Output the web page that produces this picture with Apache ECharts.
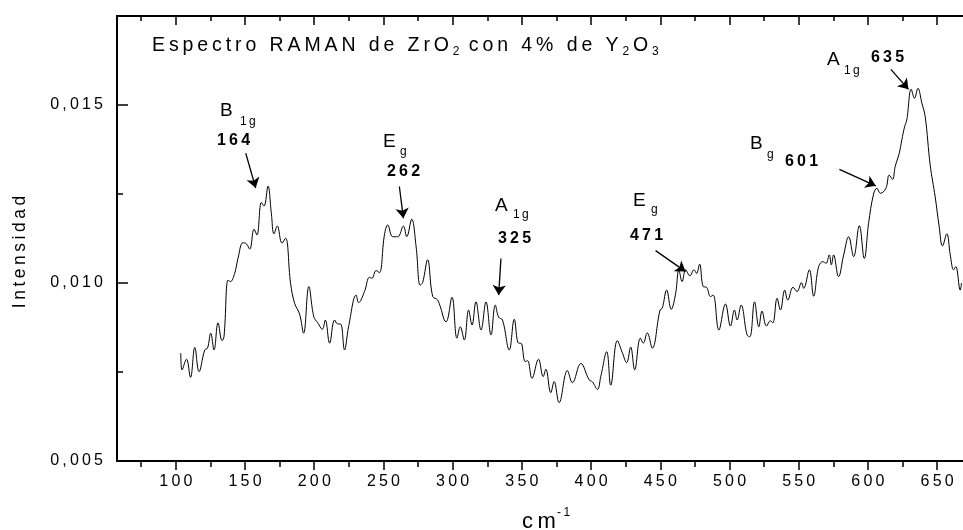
<!DOCTYPE html>
<html>
<head>
<meta charset="utf-8">
<script src="https://cdn.jsdelivr.net/npm/echarts@6/dist/echarts.min.js"></script>
<style>
  html, body { margin: 0; padding: 0; background: #fff; }
  #chart { width: 963px; height: 530px; }
</style>
</head>
<body>
<div id="chart"></div>
<script>
// Raman shift, cm-1
const shift = [
  103.6, 104.5, 107.7, 110.6, 113.7, 116.8, 120.9, 122.9, 125.2, 127.6,
  130.5, 133.4, 134.8, 137.7, 139.4, 142.5, 144.9, 148.5, 151.0, 153.4,
  156.5, 158.6, 161.8, 163.7, 166.6, 169.0, 170.9, 173.3, 176.7, 179.3,
  182.9, 185.8, 189.4, 192.3, 196.1, 199.7, 202.6, 205.8, 208.0, 211.1,
  214.7, 217.0, 219.0, 221.9, 224.8, 230.3, 232.0, 236.3, 239.9, 241.6,
  244.7, 247.1, 250.7, 253.1, 256.7, 260.3, 264.4, 266.8, 270.4, 273.6,
  276.5, 278.3, 281.9, 285.6, 289.2, 295.2, 299.5, 303.1, 305.5, 308.4,
  311.5, 314.0, 316.8, 320.5, 324.1, 327.7, 330.8, 333.2, 336.0, 340.9,
  344.5, 347.6, 349.3, 352.4, 354.1, 357.3, 362.0, 365.4, 367.3, 370.9,
  373.3, 376.9, 382.9, 386.5, 392.6, 398.6, 401.0, 404.6, 407.0, 411.3,
  414.2, 419.0, 422.6, 425.7, 428.6, 431.5, 435.6, 437.7, 440.6, 444.2,
  449.8, 451.4, 454.6, 457.9, 461.1, 463.4, 465.8, 468.3, 471.4, 474.3,
  476.2, 478.4, 481.0, 483.4, 486.3, 488.2, 492.3, 497.1, 500.7, 503.6,
  505.5, 508.4, 512.7, 514.7, 518.1, 521.2, 523.5, 526.7, 529.6, 531.3,
  534.4, 536.8, 539.9, 542.1, 545.9, 548.8, 552.0, 553.6, 557.7, 560.8,
  564.4, 567.5, 569.7, 572.1, 573.6, 575.2, 578.8, 582.5, 586.1, 589.7,
  593.8, 597.4, 600.5, 604.1, 606.5, 609.0, 613.0, 615.4, 617.8, 619.7,
  622.6, 624.5, 626.5, 628.1, 631.3, 633.7, 636.1, 639.0, 641.4, 645.0,
  648.6, 651.5, 653.9, 657.0, 659.5, 661.9, 663.5, 666.7, 667.6
];

const intensity = [
  0.00803, 0.00756, 0.00786, 0.00735, 0.00819, 0.00751, 0.00812, 0.00817, 0.00859, 0.00812,
  0.00888, 0.00838, 0.00849, 0.01008, 0.01004, 0.01027, 0.01069, 0.01113, 0.01110, 0.01095,
  0.01151, 0.01135, 0.01226, 0.01216, 0.01272, 0.01196, 0.01138, 0.01160, 0.01112, 0.01126,
  0.00999, 0.00943, 0.00913, 0.00859, 0.00990, 0.00905, 0.00888, 0.00870, 0.00896, 0.00831,
  0.00896, 0.00885, 0.00885, 0.00812, 0.00877, 0.00966, 0.00945, 0.00976, 0.01016, 0.01013,
  0.01035, 0.01029, 0.01135, 0.01163, 0.01130, 0.01130, 0.01160, 0.01130, 0.01179, 0.01102,
  0.00994, 0.01001, 0.01065, 0.00962, 0.00952, 0.00891, 0.00960, 0.00845, 0.00877, 0.00840,
  0.00924, 0.00882, 0.00947, 0.00868, 0.00947, 0.00854, 0.00938, 0.00904, 0.00896, 0.00812,
  0.00898, 0.00831, 0.00831, 0.00779, 0.00782, 0.00732, 0.00786, 0.00737, 0.00758, 0.00692,
  0.00723, 0.00664, 0.00754, 0.00720, 0.00774, 0.00728, 0.00722, 0.00701, 0.00737, 0.00807,
  0.00713, 0.00838, 0.00804, 0.00776, 0.00820, 0.00756, 0.00845, 0.00831, 0.00860, 0.00817,
  0.00924, 0.00929, 0.00980, 0.00926, 0.00971, 0.01037, 0.01004, 0.01037, 0.01020, 0.01037,
  0.01027, 0.01053, 0.00990, 0.00988, 0.00962, 0.00966, 0.00868, 0.00941, 0.00879, 0.00924,
  0.00896, 0.00938, 0.00854, 0.00849, 0.00947, 0.00877, 0.00921, 0.00879, 0.00894, 0.00888,
  0.00957, 0.00924, 0.00980, 0.00952, 0.00988, 0.00976, 0.01001, 0.00985, 0.01037, 0.00963,
  0.01046, 0.01060, 0.01055, 0.01079, 0.01051, 0.01079, 0.01018, 0.01079, 0.01130, 0.01074,
  0.01161, 0.01069, 0.01168, 0.01250, 0.01266, 0.01252, 0.01266, 0.01303, 0.01291, 0.01327,
  0.01364, 0.01402, 0.01439, 0.01458, 0.01544, 0.01519, 0.01547, 0.01505, 0.01467, 0.01331,
  0.01242, 0.01158, 0.01104, 0.01138, 0.01079, 0.01037, 0.01046, 0.00980, 0.01000
];

const xTicks = [100, 150, 200, 250, 300, 350, 400, 450, 500, 550, 600, 650];
const xMinorTicks = [75, 125, 175, 225, 275, 325, 375, 425, 475, 525, 575, 625];
const yTicks = [0.005, 0.010, 0.015];
const yMinorTicks = [0.0075, 0.0125];

// peak labels: band, symmetry subscript, position (cm-1)
const peakBand = ['B', 'E', 'A', 'E', 'B', 'A'];
const peakSub = ['1g', 'g', '1g', 'g', 'g', '1g'];
const peakPos = [164, 262, 325, 471, 601, 635];

const FONT = '"Liberation Sans", Arial, sans-serif';
const TS = '\u2009';
const sp = s => s.split('').join(TS);

// arrows [x0, y0, x1, y1] in data units, and label anchors in px
const arrows = [
  [150.5, 0.01365, 157.7, 0.01267],
  [261.5, 0.01271, 264.4, 0.01182],
  [334.9, 0.01069, 333.2, 0.00966],
  [446.6, 0.01091, 468.3, 0.01032],
  [579.4, 0.01319, 605.7, 0.01273],
  [616.6, 0.01600, 629.3, 0.01544]
];
const labelPos = [
  { band: [220, 111], sub: [240, 122], num: [217, 141] },
  { band: [383, 142], sub: [400, 152], num: [387, 172] },
  { band: [495, 206], sub: [513, 215], num: [498, 239] },
  { band: [633, 201], sub: [651, 210], num: [630, 236] },
  { band: [750, 144], sub: [767, 155], num: [785, 162] },
  { band: [827, 60], sub: [844, 71], num: [871, 58] }
];

const XMIN = 57.5, XMAX = 668.7;

function xAxis(pos, ticks, len, inside, labels) {
  return {
    type: 'value', position: pos, min: XMIN, max: XMAX,
    axisLine: { show: true, onZero: false, lineStyle: { color: '#000', width: 2 } },
    axisTick: { show: true, inside: inside, length: len, customValues: ticks,
      lineStyle: { color: '#000', width: 1.5 } },
    axisLabel: labels ? {
      customValues: xTicks, margin: 13, color: '#000', fontSize: 16, fontFamily: FONT,
      formatter: v => sp(String(v))
    } : { show: false },
    splitLine: { show: false }
  };
}

function yAxis(ticks, len, labels) {
  return {
    type: 'value', position: 'left', min: 0.005, max: 0.0175,
    axisLine: { show: true, onZero: false, lineStyle: { color: '#000', width: 2 } },
    axisTick: { show: true, inside: true, length: len, customValues: ticks,
      lineStyle: { color: '#000', width: 1.5 } },
    axisLabel: labels ? {
      customValues: yTicks, margin: 14, color: '#000', fontSize: 16, fontFamily: FONT,
      formatter: v => sp(v.toFixed(3).replace('.', ','))
    } : { show: false },
    splitLine: { show: false }
  };
}

function txt(x, y, s, size, bold, extra) {
  return Object.assign({
    type: 'text', x: x, y: y, silent: true,
    style: { text: s, fontSize: size, fontWeight: bold ? 'bold' : 'normal',
      fontFamily: FONT, fill: '#000', align: 'left', verticalAlign: 'middle' }
  }, extra || {});
}

const graphics = [];
// title
graphics.push({
  type: 'text', x: 152, y: 46, silent: true,
  style: {
    text: '{m|' + sp('Espectro RAMAN de ZrO') + TS + '}{s|2}{m|' + sp(' con 4% de Y') + TS +
      '}{s|2}{m|' + TS + 'O' + TS + '}{s|3}',
    verticalAlign: 'middle', align: 'left', fill: '#000',
    rich: {
      m: { fontSize: 19.5, lineHeight: 24, fontFamily: FONT, fill: '#000' },
      s: { fontSize: 12, lineHeight: 2, verticalAlign: 'bottom', fontFamily: FONT, fill: '#000' }
    }
  }
});
// axis names
graphics.push(txt(20, 252, '', 17, false,
  { rotation: Math.PI / 2, style: { text: sp('Intensidad'), fontSize: 17.5, fontFamily: FONT,
    fill: '#000', align: 'center', verticalAlign: 'middle' } }));
graphics.push(txt(522, 522, sp('cm'), 22, false));
graphics.push(txt(557, 513, sp('-1'), 12, false));
// peak labels
peakPos.forEach((p, i) => {
  const L = labelPos[i];
  graphics.push(txt(L.band[0], L.band[1], peakBand[i], 19, false));
  graphics.push(txt(L.sub[0], L.sub[1], sp(peakSub[i]), 12, false));
  graphics.push(txt(L.num[0], L.num[1], sp(String(p)), 16, true));
});

const chart = echarts.init(document.getElementById('chart'));
chart.setOption({
  animation: false,
  backgroundColor: '#fff',
  grid: { left: 117, right: 0, top: 16, bottom: 69 },
  xAxis: [
    xAxis('bottom', xTicks, 9, false, true),
    xAxis('bottom', xMinorTicks, 6, false, false),
    xAxis('top', xTicks, 9, true, false),
    xAxis('top', xMinorTicks, 5, true, false)
  ],
  yAxis: [
    yAxis(yTicks, 11, true),
    yAxis(yMinorTicks, 6, false)
  ],
  series: [{
    type: 'line',
    data: shift.map((x, i) => [x, intensity[i]]),
    showSymbol: false,
    smooth: 0.4,
    lineStyle: { color: '#000', width: 1 },
    silent: true,
    markLine: {
      silent: true,
      symbol: ['none', 'arrow'],
      symbolSize: 10,
      label: { show: false },
      lineStyle: { color: '#000', width: 1.3, type: 'solid' },
      data: arrows.map(a => [{ coord: [a[0], a[1]] }, { coord: [a[2], a[3]] }])
    }
  }],
  graphic: graphics
});
</script>
</body>
</html>
